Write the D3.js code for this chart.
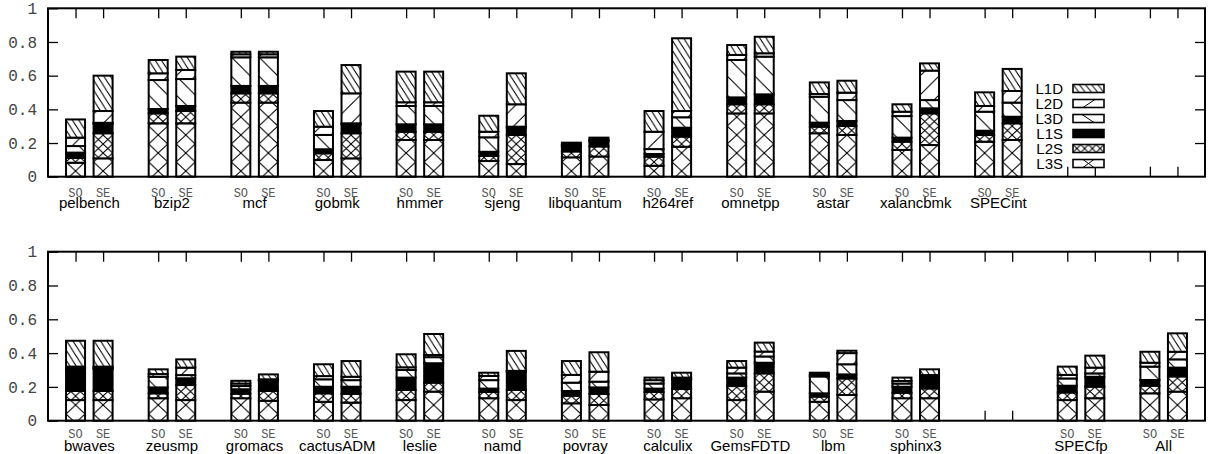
<!DOCTYPE html>
<html><head><meta charset="utf-8">
<script src="https://cdn.jsdelivr.net/npm/d3@7"></script>
<style>body{margin:0;background:#fff}</style>
</head><body><svg id="c" width="1210" height="454"></svg>
<script>
// ---------------- DATA ----------------
const seriesNames = ["L3S","L2S","L1S","L3D","L2D","L1D"];   // stack order, bottom -> top
const legendNames = ["L1D","L2D","L3D","L1S","L2S","L3S"];   // key order, top -> bottom
const configs = ["SO","SE"];
const yTicks = [0, 0.2, 0.4, 0.6, 0.8, 1];
const yTickLabels = ["0", "0.2", "0.4", "0.6", "0.8", "1"];

const topCategories = ["pelbench","bzip2","mcf","gobmk","hmmer","sjeng","libquantum","h264ref","omnetpp","astar","xalancbmk","SPECint","",""];
// each entry: [SO, SE]; null = empty slot
const topL3S = [[0.083,0.109],[0.317,0.317],[0.44,0.44],[0.099,0.109],[0.218,0.218],[0.093,0.075],[0.115,0.12],[0.065,0.178],[0.376,0.376],[0.258,0.248],[0.159,0.188],[0.208,0.218],null,null];
const topL2S = [[0.028,0.149],[0.059,0.073],[0.055,0.055],[0.04,0.149],[0.049,0.049],[0.03,0.173],[0.035,0.06],[0.054,0.06],[0.054,0.054],[0.039,0.053],[0.049,0.188],[0.04,0.099],null,null];
const topL1S = [[0.032,0.055],[0.026,0.03],[0.044,0.044],[0.024,0.053],[0.044,0.044],[0.025,0.043],[0.03,0.03],[0.016,0.053],[0.041,0.059],[0.024,0.03],[0.024,0.03],[0.025,0.039],null,null];
const topL3D = [[0.039,0.007],[0.172,0.16],[0.17,0.17],[0.085,0.006],[0.109,0.109],[0.086,0.006],[0.005,0.005],[0.029,0.062],[0.222,0.224],[0.154,0.124],[0.128,0.049],[0.113,0.084],null,null];
const topL2D = [[0.05,0.07],[0.04,0.054],[0.018,0.018],[0.049,0.178],[0.022,0.022],[0.033,0.133],[0.005,0.005],[0.103,0.037],[0.03,0.02],[0.016,0.044],[0.026,0.175],[0.034,0.069],null,null];
const topL1D = [[0.108,0.21],[0.079,0.079],[0.015,0.015],[0.093,0.168],[0.182,0.182],[0.095,0.184],[0.012,0.012],[0.123,0.432],[0.059,0.098],[0.069,0.071],[0.044,0.043],[0.081,0.131],null,null];

const botCategories = ["bwaves","zeusmp","gromacs","cactusADM","leslie","namd","povray","calculix","GemsFDTD","lbm","sphinx3","","SPECfp","All"];
const botL3S = [[0.122,0.122],[0.133,0.122],[0.133,0.118],[0.112,0.107],[0.122,0.172],[0.133,0.122],[0.103,0.093],[0.126,0.133],[0.122,0.172],[0.112,0.152],[0.133,0.133],null,[0.122,0.133],[0.162,0.172]];
const botL2S = [[0.054,0.054],[0.029,0.089],[0.027,0.058],[0.05,0.052],[0.06,0.053],[0.037,0.06],[0.045,0.065],[0.044,0.055],[0.083,0.108],[0.031,0.098],[0.032,0.058],null,[0.045,0.068],[0.045,0.09]];
const botL1S = [[0.129,0.129],[0.035,0.04],[0.026,0.059],[0.039,0.042],[0.073,0.115],[0.02,0.108],[0.028,0.039],[0.02,0.057],[0.05,0.063],[0.019,0.024],[0.036,0.069],null,[0.04,0.059],[0.034,0.052]];
const botL3D = [[0.007,0.007],[0.063,0.019],[0.019,0.005],[0.044,0.039],[0.045,0.036],[0.05,0.002],[0.049,0.034],[0.03,0.005],[0.025,0.037],[0.1,0.06],[0.019,0.005],null,[0.043,0.02],[0.079,0.049]];
const botL2D = [[0.008,0.008],[0.016,0.044],[0.015,0.005],[0.019,0.02],[0.016,0.013],[0.025,0.003],[0.046,0.059],[0.02,0.005],[0.034,0.029],[0.01,0.066],[0.015,0.005],null,[0.021,0.034],[0.023,0.045]];
const botL1D = [[0.153,0.153],[0.028,0.049],[0.016,0.029],[0.07,0.093],[0.077,0.124],[0.019,0.118],[0.082,0.115],[0.015,0.029],[0.039,0.053],[0.012,0.014],[0.02,0.034],null,[0.049,0.071],[0.065,0.109]];

// ---------------- LAYOUT ----------------
const svg = d3.select("#c");
const defs = svg.append("defs");
const X0 = 48, X1 = 1205;
const x = d3.scaleLinear().domain([-1, 41]).range([X0, X1]);
const barW = x(0.69) - x(0);
const panels = [
  {cats: topCategories, data: [topL3S, topL2S, topL1S, topL3D, topL2D, topL1D], yTop: 8.3, yBot: 176.7, cfgY: 197, nameY: 208, legend: true},
  {cats: botCategories, data: [botL3S, botL2S, botL1S, botL3D, botL2D, botL1D], yTop: 251.7, yBot: 420.7, cfgY: 438, nameY: 451, legend: false}
];

// ---------------- PATTERNS ----------------
function diagLines(g, w, h, dir) {
  // dir 1: "\"  ; dir -1: "/"
  [-w, 0, w].forEach(off => {
    if (dir === 1) g.append("line").attr("x1", off - w).attr("y1", -h).attr("x2", off + 2 * w).attr("y2", 2 * h);
    else g.append("line").attr("x1", off - w).attr("y1", 2 * h).attr("x2", off + 2 * w).attr("y2", -h);
  });
}
function makePattern(id, px, py, w, h, kinds) {
  const p = defs.append("pattern").attr("id", id).attr("patternUnits", "userSpaceOnUse")
    .attr("x", px).attr("y", py).attr("width", w).attr("height", h);
  p.append("rect").attr("width", w).attr("height", h).attr("fill", "#fff");
  const g = p.append("g").attr("stroke", "#000").attr("stroke-width", 1);
  kinds.forEach(k => diagLines(g, w, h, k));
}
const positions = d3.range(14).flatMap(gi => [3 * gi, 3 * gi + 1]);
positions.forEach(pos => {
  const left = x(pos) - barW / 2;
  makePattern(`p-L3S-${pos}`, left, 0, barW, 18, [1, -1]);
  makePattern(`p-L2S-${pos}`, left, 0, barW / 2, 9, [1, -1]);
  makePattern(`p-L3D-${pos}`, left, 0, barW, 19, [1]);
  makePattern(`p-L2D-${pos}`, left, 0, barW, 19, [-1]);
  makePattern(`p-L1D-${pos}`, left, 0, barW / 3, 10, [1]);
});
function fillFor(name, pos) { return name === "L1S" ? "#000" : `url(#p-${name}-${pos})`; }

// ---------------- DRAW PANELS ----------------
panels.forEach((P, pi) => {
  const y = d3.scaleLinear().domain([0, 1]).range([P.yBot, P.yTop]);
  const g = svg.append("g");

  // y axis (left) with inward ticks
  const yAxis = d3.axisLeft(y).tickValues(yTicks).tickFormat((d, i) => yTickLabels[i]).tickSize(-10).tickPadding(11);
  const ya = g.append("g").attr("transform", `translate(${X0},0)`).call(yAxis);
  ya.select(".domain").remove();
  ya.selectAll("line").attr("stroke", "#000").attr("stroke-width", 1.3);
  ya.selectAll("text").attr("font-family", "Liberation Mono, monospace").attr("font-size", 16).attr("fill", "#444");
  // right mirror ticks
  const yr = g.append("g").attr("transform", `translate(${X1},0)`).call(d3.axisRight(y).tickValues(yTicks.slice(1, -1)).tickSize(-10).tickFormat(""));
  yr.select(".domain").remove();
  yr.selectAll("line").attr("stroke", "#000").attr("stroke-width", 1.3);

  // x ticks top & bottom (inward)
  const xt = g.append("g").attr("transform", `translate(0,${P.yTop})`).call(d3.axisTop(x).tickValues(positions).tickSize(-10).tickFormat(""));
  const xb = g.append("g").attr("transform", `translate(0,${P.yBot})`).call(d3.axisBottom(x).tickValues(positions).tickSize(-10).tickFormat(""));
  [xt, xb].forEach(a => { a.select(".domain").remove(); a.selectAll("line").attr("stroke", "#000").attr("stroke-width", 1.3); });

  // bars
  P.cats.forEach((cat, gi) => {
    if (P.data[0][gi] === null) return;
    configs.forEach((cfg, si) => {
      const pos = 3 * gi + si;
      let cum = 0;
      seriesNames.forEach((sn, k) => {
        const v = P.data[k][gi][si];
        g.append("rect")
          .attr("x", x(pos) - barW / 2).attr("width", barW)
          .attr("y", y(cum + v)).attr("height", y(cum) - y(cum + v))
          .attr("fill", fillFor(sn, pos)).attr("stroke", "#000").attr("stroke-width", 2);
        cum += v;
      });
      g.append("text").attr("x", x(pos)).attr("y", P.cfgY).attr("text-anchor", "middle")
        .attr("font-family", "Liberation Mono, monospace").attr("font-size", 12).attr("fill", "#555").text(cfg);
    });
    g.append("text").attr("x", x(3 * gi + 0.5)).attr("y", P.nameY).attr("text-anchor", "middle")
      .attr("font-family", "Liberation Sans, Arial, sans-serif").attr("font-size", 15).attr("fill", "#000").text(cat);
  });

  // frame
  g.append("rect").attr("x", X0).attr("y", P.yTop).attr("width", X1 - X0).attr("height", P.yBot - P.yTop)
    .attr("fill", "none").attr("stroke", "#000").attr("stroke-width", 2);

  // legend
  if (P.legend) {
    const bx = 1073, bw = 31, bh = 8;
    legendNames.forEach((ln, i) => {
      const cy = 88.5 + 15 * i;
      const by = cy - bh / 2;
      let fill = "#000";
      if (ln === "L1D") { makePattern("lg-L1D", bx, by, 6.2, bh, [1]); fill = "url(#lg-L1D)"; }
      if (ln === "L2S") { makePattern("lg-L2S", bx, by, 7.75, bh, [1, -1]); fill = "url(#lg-L2S)"; }
      if (ln === "L2D" || ln === "L3D" || ln === "L3S") fill = "#fff";
      g.append("text").attr("x", 1063).attr("y", cy + 5.5).attr("text-anchor", "end")
        .attr("font-family", "Liberation Sans, Arial, sans-serif").attr("font-size", 15).text(ln);
      g.append("rect").attr("x", bx).attr("y", by).attr("width", bw).attr("height", bh)
        .attr("fill", fill).attr("stroke", "#000").attr("stroke-width", 1.6);
      const lg = g.append("g").attr("stroke", "#000").attr("stroke-width", 1);
      if (ln === "L2D") lg.append("line").attr("x1", bx + 10).attr("y1", by + bh).attr("x2", bx + 22).attr("y2", by);
      if (ln === "L3D") lg.append("line").attr("x1", bx + 9).attr("y1", by).attr("x2", bx + 21).attr("y2", by + bh);
      if (ln === "L3S") {
        lg.append("line").attr("x1", bx + 10).attr("y1", by).attr("x2", bx + 21).attr("y2", by + bh);
        lg.append("line").attr("x1", bx + 21).attr("y1", by).attr("x2", bx + 10).attr("y2", by + bh);
      }
    });
  }
});
</script></body></html>
